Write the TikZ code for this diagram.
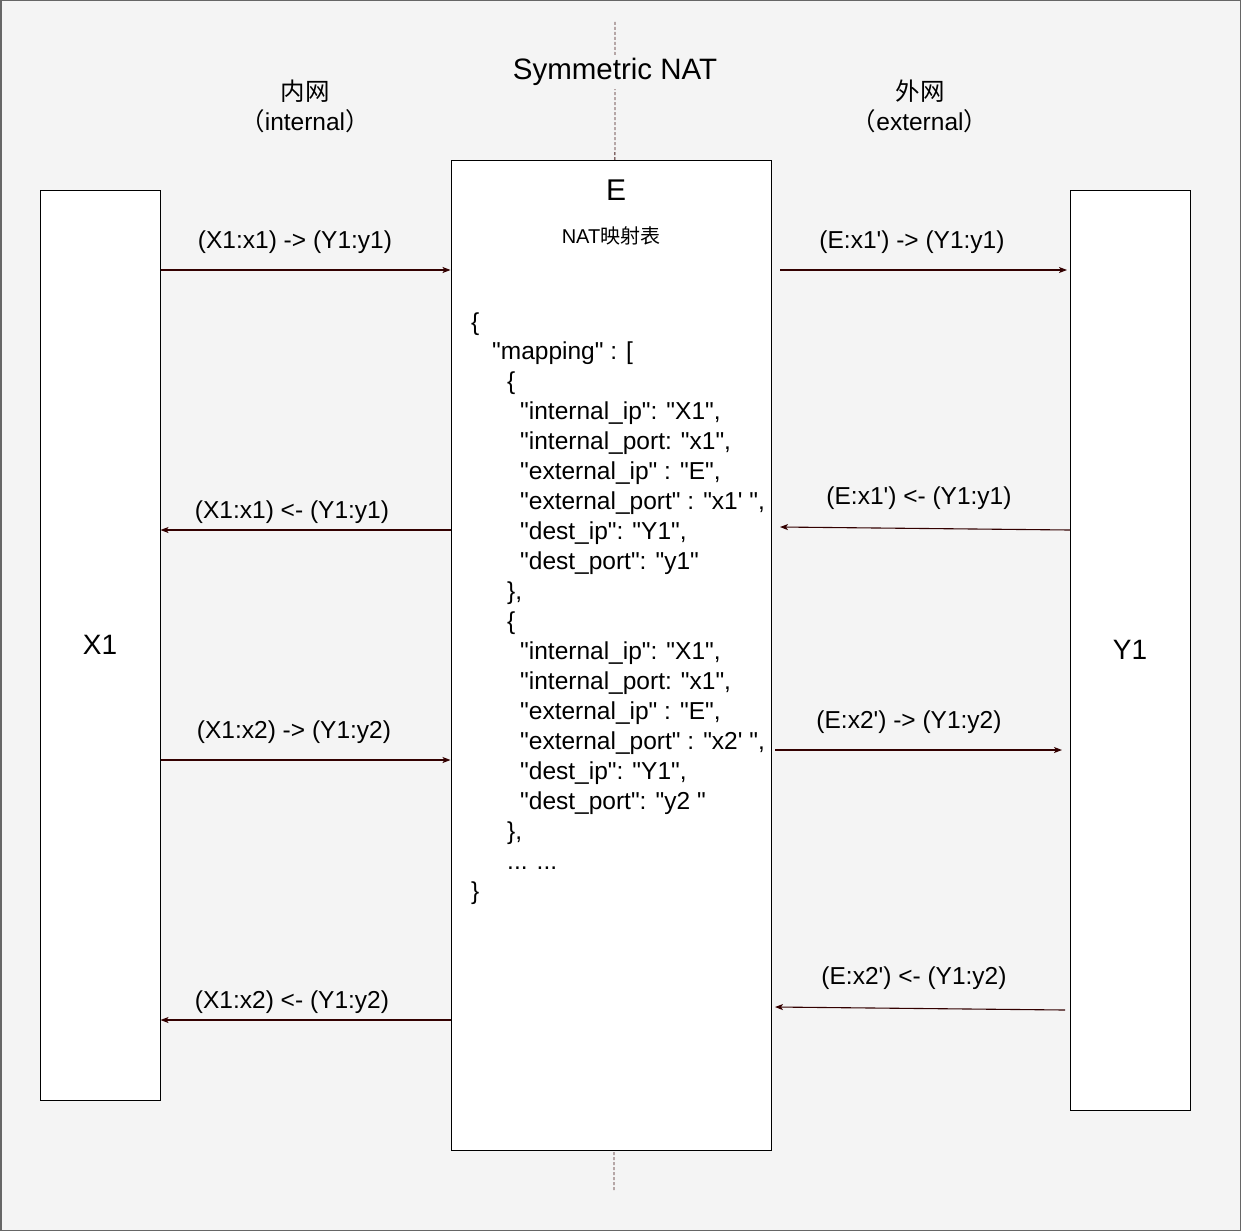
\documentclass[tikz,border=0pt]{standalone}
\usepackage{fontspec}
\setmainfont{Liberation Sans}[Ligatures=TeXOff]
\newfontfamily\cjk{Noto Sans CJK SC}
\usetikzlibrary{arrows.meta}
\definecolor{bgc}{HTML}{F4F4F4}
\definecolor{framec}{HTML}{666666}
\definecolor{arrc}{HTML}{330000}
\tikzset{
  box/.style={draw=black, line width=1pt, fill=white, inner sep=0pt},
  lbl/.style={inner sep=0pt, font=\fontsize{22}{24}\selectfont},
  codeline/.style={anchor=base west, inner sep=0pt, font=\fontsize{24.5}{28}\selectfont},
  conn/.style={draw=arrc, line width=1.1pt, -{Stealth[length=8pt,width=6pt,inset=2pt]}},
  guide/.style={draw=arrc!80!gray, line width=0.8pt, dash pattern=on 3pt off 2pt}
}
\begin{document}
\begin{tikzpicture}[x=1pt,y=-1pt]
\useasboundingbox (0,0) rectangle (1241,1231);
\fill[bgc] (0,0) rectangle (1241,1231);
\draw[framec, line width=1.5pt] (0.75,0.75) rectangle (1240.25,1230.25);

% guide line
\coordinate (gtop) at (615,22);
\coordinate (gbot) at (614,1190);
\draw[guide] (gtop) -- (gbot);

% title and side labels
\node[lbl, fill=bgc, inner sep=3pt, font=\fontsize{29.5}{30}\selectfont] (title) at (615,72) {Symmetric NAT};
\node[lbl, align=center, font=\fontsize{24.5}{30}\selectfont] (intl) at (305,106) {{\cjk 内网}\\{\cjk （}internal{\cjk ）}};
\node[lbl, align=center, font=\fontsize{24.5}{30}\selectfont] (extl) at (920,106) {{\cjk 外网}\\{\cjk （}external{\cjk ）}};

% boxes
\node[box, minimum width=120pt, minimum height=910pt, font=\fontsize{28}{30}\selectfont] (X1) at (100,645) {X1};
\node[box, minimum width=120pt, minimum height=920pt, font=\fontsize{28}{30}\selectfont] (Y1) at (1130,650) {Y1};
\node[box, minimum width=320pt, minimum height=990pt] (E) at (611,655) {};
\node[lbl, font=\fontsize{30}{32}\selectfont] (Elbl) at (616,190) {E};
\node[lbl, font=\fontsize{20}{22}\selectfont] (tbl) at (611,236) {NAT{\cjk 映射表}};

% code lines
\node[codeline] (c1) at (471,330) {\{};
\node[codeline] (c2) at (492,359) {"mapping" : [};
\node[codeline] (c3) at (507,389) {\{};
\node[codeline] (c4) at (520,419) {"internal\_ip": "X1",};
\node[codeline] (c5) at (520,449) {"internal\_port: "x1",};
\node[codeline] (c6) at (520,479) {"external\_ip" : "E",};
\node[codeline] (c7) at (520,509) {"external\_port" : "x1'\ ",};
\node[codeline] (c8) at (520,539) {"dest\_ip": "Y1",};
\node[codeline] (c9) at (520,569) {"dest\_port": "y1"};
\node[codeline] (c10) at (507,599) {\},};
\node[codeline] (c11) at (507,629) {\{};
\node[codeline] (c12) at (520,659) {"internal\_ip": "X1",};
\node[codeline] (c13) at (520,689) {"internal\_port: "x1",};
\node[codeline] (c14) at (520,719) {"external\_ip" : "E",};
\node[codeline] (c15) at (520,749) {"external\_port" : "x2'\ ",};
\node[codeline] (c16) at (520,779) {"dest\_ip": "Y1",};
\node[codeline] (c17) at (520,809) {"dest\_port": "y2\ "};
\node[codeline] (c18) at (507,839) {\},};
\node[codeline] (c19) at (507,869) {... ...};
\node[codeline] (c20) at (471,899) {\}};

% right-side free ends
\coordinate (r1s) at (780,270);  \coordinate (r1e) at (1067,270);
\coordinate (r2s) at (1070,530); \coordinate (r2e) at (780,527);
\coordinate (r3s) at (775,750);  \coordinate (r3e) at (1062,750);
\coordinate (r4s) at (1065,1010);\coordinate (r4e) at (775,1007);

% connectors
\draw[conn] (X1.east |- 0,270) -- (E.west |- 0,270);
\draw[conn] (E.west |- 0,530) -- (X1.east |- 0,530);
\draw[conn] (X1.east |- 0,760) -- (E.west |- 0,760);
\draw[conn] (E.west |- 0,1020) -- (X1.east |- 0,1020);
\draw[conn] (r1s) -- (r1e);
\draw[conn] (r2s) -- (r2e);
\draw[conn] (r3s) -- (r3e);
\draw[conn] (r4s) -- (r4e);

% connector labels
\tikzset{clbl/.style={inner sep=0pt, font=\fontsize{24.5}{26}\selectfont}}
\node[clbl] (l1) at (295,242) {(X1:x1) -> (Y1:y1)};
\node[clbl] (l2) at (292,512) {(X1:x1) <- (Y1:y1)};
\node[clbl] (l3) at (294,732) {(X1:x2) -> (Y1:y2)};
\node[clbl] (l4) at (292,1002) {(X1:x2) <- (Y1:y2)};
\node[clbl] (l5) at (912,242) {(E:x1') -> (Y1:y1)};
\node[clbl] (l6) at (919,498) {(E:x1') <- (Y1:y1)};
\node[clbl] (l7) at (909,722) {(E:x2') -> (Y1:y2)};
\node[clbl] (l8) at (914,978) {(E:x2') <- (Y1:y2)};
\end{tikzpicture}
\end{document}
